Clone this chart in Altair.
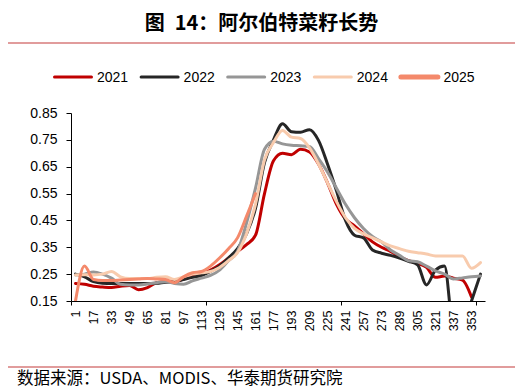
import altair as alt
import pandas as pd

# ---------------- data ----------------
days = list(range(1, 362, 8))  # 1, 9, ..., 361 (46 points)
years = ["2021", "2022", "2023", "2024", "2025"]

v2021 = [0.215, 0.212, 0.205, 0.202, 0.200, 0.205, 0.208, 0.192, 0.200, 0.218,
         0.222, 0.222, 0.232, 0.242, 0.250, 0.265, 0.285, 0.310, 0.335, 0.360,
         0.395, 0.550, 0.672, 0.700, 0.695, 0.715, 0.705, 0.660, 0.590, 0.510,
         0.455, 0.430, 0.400, 0.370, 0.350, 0.335, 0.315, 0.300, 0.290, 0.275,
         0.238, 0.243, 0.235, 0.228, 0.165, None]
v2022 = [0.250, 0.240, 0.222, 0.216, 0.215, 0.215, 0.215, 0.215, 0.215, 0.216,
         0.220, 0.222, 0.230, 0.238, 0.245, 0.260, 0.280, 0.310, 0.345, 0.400,
         0.495, 0.665, 0.750, 0.810, 0.780, 0.778, 0.788, 0.748, 0.660, 0.560,
         0.450, 0.395, 0.385, 0.340, 0.328, 0.320, 0.310, 0.298, 0.285, 0.210,
         0.265, 0.280, 0.050, 0.050, 0.150, 0.250]
v2023 = [0.247, 0.250, 0.258, 0.250, 0.235, 0.212, 0.210, 0.210, 0.213, 0.218,
         0.222, 0.215, 0.212, 0.225, 0.235, 0.245, 0.265, 0.300, 0.335, 0.440,
         0.570, 0.715, 0.745, 0.735, 0.730, 0.728, 0.725, 0.680, 0.630, 0.570,
         0.510, 0.460, 0.420, 0.390, 0.370, 0.340, 0.320, 0.300, 0.296, 0.280,
         0.262, 0.250, 0.232, 0.236, 0.240, 0.243]
v2024 = [0.247, 0.248, 0.247, 0.250, 0.260, 0.240, 0.234, 0.234, 0.234, 0.238,
         0.240, 0.230, 0.240, 0.250, 0.255, 0.260, 0.275, 0.300, 0.330, 0.400,
         0.510, 0.675, 0.740, 0.785, 0.760, 0.755, 0.720, 0.660, 0.590, 0.520,
         0.460, 0.420, 0.400, 0.385, 0.370, 0.355, 0.345, 0.335, 0.330, 0.325,
         0.318, 0.318, 0.318, 0.318, 0.272, 0.293]
v2025 = [0.150, 0.280, 0.230, 0.226, 0.226, 0.228, 0.230, 0.232, 0.234, 0.232,
         0.230, 0.218, 0.240, 0.255, 0.260, 0.280, 0.310, 0.345, 0.385, 0.465,
         0.550] + [None] * 25

series = [v2021, v2022, v2023, v2024, v2025]
colors = ["#C00000", "#262626", "#969696", "#F8CBAD", "#F4896B"]
widths = [3, 3, 3, 3, 5]

y_ticks = [0.15, 0.25, 0.35, 0.45, 0.55, 0.65, 0.75, 0.85]
x_labels = list(range(1, 354, 16))  # 1, 17, ..., 353
x_tick_marks = [-3, 117, 237, 357]

title_text = "图\u200214：阿尔伯特菜籽长势"
source_text = "数据来源：USDA、MODIS、华泰期货研究院"

rows = []
for yr, vals in zip(years, series):
    for d, v in zip(days, vals):
        if v is not None:
            rows.append({"day": d, "year": yr, "value": v})
df = pd.DataFrame(rows)

W, H = 414, 188
FONT = "Liberation Sans"
CJK = "Noto Sans CJK SC"

tick_list = ",".join(str(t) for t in x_tick_marks)

x_enc = alt.X(
    "day:Q",
    scale=alt.Scale(domain=[-3, 365], nice=False, zero=False),
    axis=alt.Axis(
        values=x_labels + x_tick_marks,
        labelExpr=f"indexof([{tick_list}], datum.value) >= 0 ? '' : datum.label",
        tickOpacity={"condition": {"test": f"indexof([{tick_list}], datum.value) >= 0", "value": 1}, "value": 0},
        labelAngle=-90,
        labelFontSize=12.5,
        labelFont=FONT,
        labelColor="#000000",
        labelOverlap=False,
        labelFlush=False,
        labelBound=False,
        labelPadding=5,
        tickSize=4,
        tickColor="#000000",
        domainColor="#000000",
        grid=False,
        title=None,
    ),
)
y_enc = alt.Y(
    "value:Q",
    scale=alt.Scale(domain=[0.15, 0.85], nice=False, zero=False),
    axis=alt.Axis(
        values=y_ticks,
        format=".2f",
        labelFontSize=14,
        labelFont=FONT,
        labelColor="#000000",
        labelPadding=9,
        tickSize=5,
        tickColor="#000000",
        domainColor="#000000",
        grid=False,
        title=None,
    ),
)

color_scale = alt.Scale(domain=years, range=colors)
width_scale = alt.Scale(domain=years, range=widths)

lines = alt.Chart(df).mark_line(interpolate="monotone", clip=True, strokeCap="round").encode(
    x=x_enc,
    y=y_enc,
    color=alt.Color("year:N", scale=color_scale, legend=None),
    strokeWidth=alt.StrokeWidth("year:N", scale=width_scale, legend=None),
)

# ---- legend (top, horizontal) ----
legend_layers = []
LEG_X0, LEG_STEP, LEG_Y = -18, 86.6, -36
for i, (yr, col, w) in enumerate(zip(years, colors, widths)):
    x0 = LEG_X0 + i * LEG_STEP
    ld = pd.DataFrame({"year": [yr]})
    legend_layers.append(
        alt.Chart(ld).mark_rule(color=col, strokeWidth=w, strokeCap="round").encode(
            x=alt.value(x0 + 1.5), x2=alt.value(x0 + 38.5), y=alt.value(LEG_Y))
    )
    legend_layers.append(
        alt.Chart(ld).mark_text(font=FONT, fontSize=14, color="#000000", align="left",
                                baseline="middle").encode(
            x=alt.value(x0 + 44), y=alt.value(LEG_Y + 0.5), text="year:N")
    )

one = pd.DataFrame({"t": [title_text], "s": [source_text]})

title = alt.Chart(one).mark_text(font=CJK, fontSize=20, fontWeight="bold", color="#000000",
                                 align="center", baseline="middle").encode(
    x=alt.value(190.5), y=alt.value(-89), text="t:N")
source = alt.Chart(one).mark_text(font=CJK, fontSize=16.5, color="#000000",
                                  align="left", baseline="middle").encode(
    x=alt.value(-54), y=alt.value(266), text="s:N")
top_rule = alt.Chart(one).mark_rule(color="#D77B7B", strokeWidth=1.5).encode(
    x=alt.value(-66), x2=alt.value(446), y=alt.value(-70))
bottom_rule = alt.Chart(one).mark_rule(color="#D77B7B", strokeWidth=1.5).encode(
    x=alt.value(-66), x2=alt.value(446), y=alt.value(254))

chart = alt.layer(lines, *legend_layers, title, source, top_rule, bottom_rule).properties(
    width=W, height=H,
    autosize=alt.AutoSizeParams(type="none"),
    padding={"left": 63, "top": 105, "right": 30, "bottom": 87},
    background="#FFFFFF",
).configure_view(stroke=None)

chart.save("out.html", embed_options={"renderer": "svg", "actions": False})
